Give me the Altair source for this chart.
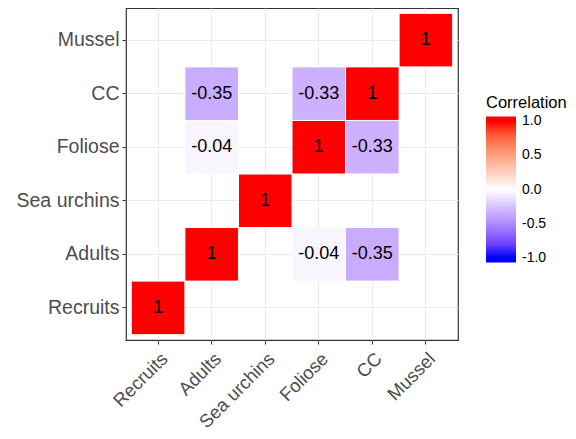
import altair as alt
import pandas as pd

categories = ["Recruits", "Adults", "Sea urchins", "Foliose", "CC", "Mussel"]

x_vars = ["Recruits", "Adults", "Foliose", "CC", "Sea urchins",
          "Adults", "Foliose", "CC", "Adults", "Foliose", "CC", "Mussel"]
y_vars = ["Recruits", "Adults", "Adults", "Adults", "Sea urchins",
          "Foliose", "Foliose", "Foliose", "CC", "CC", "CC", "Mussel"]
values = [1, 1, -0.04, -0.35, 1,
          -0.04, 1, -0.33, -0.35, -0.33, 1, 1]

legend_ticks = [-1, -0.5, 0, 0.5, 1]

df = pd.DataFrame({"x": x_vars, "y": y_vars, "value": values})
df["label"] = [f"{v:g}" for v in values]

font = "Liberation Sans"

xscale = alt.Scale(domain=categories, paddingInner=0, paddingOuter=0.1)
yscale = alt.Scale(domain=categories[::-1], paddingInner=0, paddingOuter=0.1)

xenc = alt.X("x:N", scale=xscale, title=None,
             axis=alt.Axis(bandPosition=0.5, labelAngle=315, labelAlign="right",
                           labelBaseline="top", labelFontSize=18.5, labelColor="#4D4D4D",
                           labelFont=font, tickColor="#333333", tickSize=4,
                           labelPadding=5, domain=False,
                           grid=True, gridColor="#EBEBEB", zindex=0,
                           labelOverlap=False))
yenc = alt.Y("y:N", scale=yscale, title=None,
             axis=alt.Axis(bandPosition=0.5, labelFontSize=19.5, labelColor="#4D4D4D",
                           labelFont=font, tickColor="#333333", tickSize=4,
                           labelPadding=3, domain=False, grid=True,
                           gridColor="#EBEBEB", zindex=0,
                           labelOverlap=False))

tiles = alt.Chart(df).mark_rect(stroke="white", strokeWidth=1).encode(
    x=xenc,
    y=yenc,
    color=alt.Color("value:Q",
                    scale=alt.Scale(domain=[-1.07, -1, 0, 1, 1.07],
                                    range=["blue", "blue", "white", "red", "red"],
                                    interpolate="lab"),
                    legend=alt.Legend(title="Correlation", orient="none",
                                      legendX=360, legendY=87,
                                      direction="vertical", gradientLength=146,
                                      gradientThickness=30, values=legend_ticks,
                                      labelExpr="replace(format(datum.value, '.1f'), '\u2212', '-')",
                                      labelFontSize=14, labelColor="black", labelFont=font,
                                      labelBaseline="middle",
                                      titleFontSize=16.5, titleColor="black", titleFont=font,
                                      titleFontWeight="normal", titlePadding=5,
                                      labelOffset=6, labelOverlap=False,
                                      gradientStrokeWidth=0)),
)

text = alt.Chart(df).mark_text(fontSize=18, font=font, color="black").encode(
    x=alt.X("x:N", scale=xscale),
    y=alt.Y("y:N", scale=yscale),
    text="label:N",
)

chart = (tiles + text).properties(
    width=332, height=332,
    autosize=alt.AutoSizeParams(type="none"),
    padding={"left": 118, "top": 0, "right": 110, "bottom": 91},
).configure_view(stroke="#333333", strokeWidth=1.2)

chart.save("out.html", embed_options={"renderer": "svg", "actions": False})
